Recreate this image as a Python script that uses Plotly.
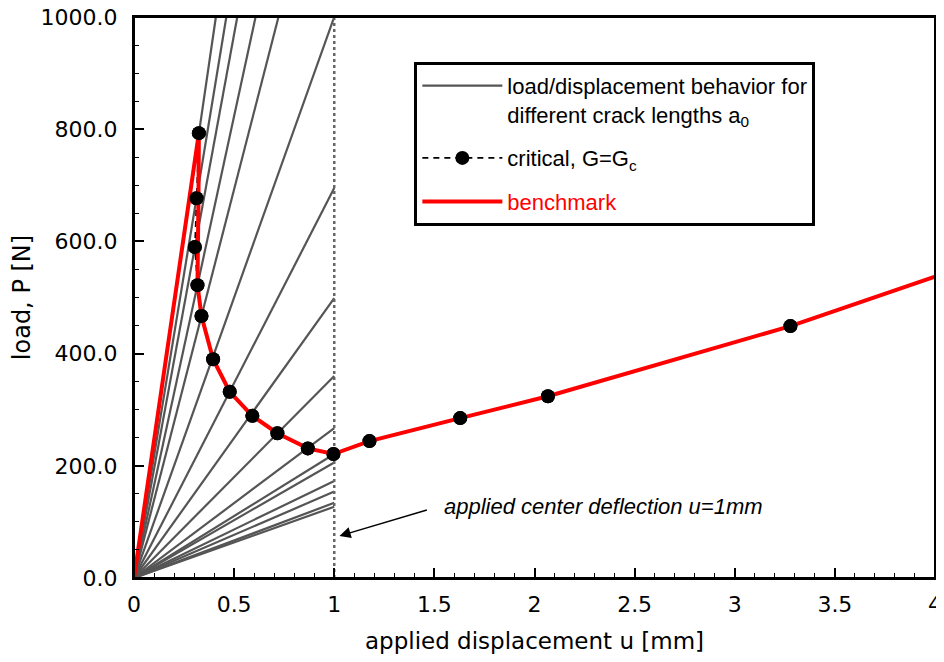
import plotly.graph_objects as go

# gray load/displacement lines: load at u=1 mm (stiffness, N/mm) for each crack length
line_stiffness = [2446, 2169, 1939, 1647, 1386, 1000, 695, 499, 360, 267, 221, 206, 173, 154, 134, 127]
u_applied = 1.0
p_max = 1000.0

# critical points, G = Gc
crit_u = [0.324, 0.312, 0.304, 0.317, 0.337, 0.395, 0.478, 0.591, 0.716, 0.868, 0.996, 1.176, 1.629, 2.067, 3.278]
crit_p = [793, 677, 590, 522, 467, 390, 332, 289, 258, 231, 221, 244, 285, 324, 449]

# benchmark curve
bench_u = [0.0, 0.324, 0.322, 0.319, 0.317, 0.337, 0.395, 0.478, 0.591, 0.716, 0.868, 0.996, 1.176, 1.629, 2.067, 3.278, 4.0]
bench_p = [0, 793, 680, 590, 522, 467, 390, 332, 289, 258, 231, 221, 244, 285, 324, 449, 537]

x_ticks = [0, 0.5, 1, 1.5, 2, 2.5, 3, 3.5, 4]
x_tick_text = ["0", "0.5", "1", "1.5", "2", "2.5", "3", "3.5", "4"]
y_ticks = [0, 200, 400, 600, 800, 1000]
y_tick_text = ["0.0", "200.0", "400.0", "600.0", "800.0", "1000.0"]

FONT = "Liberation Sans, Arial, sans-serif"
WIDE = "DejaVu Sans, " + FONT
GRAY = "#555555"

fig = go.Figure()

for i, k in enumerate(line_stiffness):
    u_end = min(u_applied, p_max / k)
    fig.add_trace(go.Scatter(
        x=[0, u_end], y=[0, k * u_end], mode="lines",
        line=dict(color=GRAY, width=2.2),
        name="load/displacement behavior for<br>different crack lengths a<sub>0</sub>",
        legendgroup="g1", showlegend=(i == 0), hoverinfo="skip"))

# applied deflection dotted line
fig.add_trace(go.Scatter(
    x=[u_applied, u_applied], y=[0, p_max], mode="lines",
    line=dict(color="#666666", width=2.5, dash="3px,3px"),
    showlegend=False, hoverinfo="skip"))

fig.add_trace(go.Scatter(
    x=crit_u, y=crit_p, mode="lines+markers",
    line=dict(color="black", width=1.6, dash="6px,5px"),
    marker=dict(color="black", size=14),
    name="critical, G=G<sub>c</sub>", legendgroup="g2"))

fig.add_trace(go.Scatter(
    x=bench_u, y=bench_p, mode="lines",
    line=dict(color="#ff0000", width=4),
    name='<span style="color:#ff0000">benchmark</span>', legendgroup="g3"))

fig.add_trace(go.Scatter(
    x=crit_u, y=crit_p, mode="markers",
    marker=dict(color="black", size=14),
    showlegend=False))

fig.add_annotation(x=1.026, y=75, ax=1.47, ay=122, axref="x", ayref="y",
                   xref="x", yref="y", text="", showarrow=True,
                   arrowhead=2, arrowsize=1.6, arrowwidth=1.4, arrowcolor="black")
fig.add_annotation(x=1.54, y=127, xref="x", yref="y", xanchor="left", yanchor="middle",
                   text="<i>applied center deflection u=1mm</i>", showarrow=False,
                   font=dict(family=FONT, size=22, color="black"))

# plot frame
fig.add_shape(type="rect", xref="paper", yref="paper", x0=0, y0=0, x1=1, y1=1,
              line=dict(color="black", width=2), layer="above")

# the page body adds an 8px margin; keep the figure inside the 944x662 window
fig.update_layout(
    width=928, height=646,
    margin=dict(l=126, r=1, t=9, b=76),
    plot_bgcolor="white", paper_bgcolor="white",
    font=dict(family=FONT, size=21, color="black"),
    showlegend=True,
    legend=dict(x=0.35, y=0.92, xanchor="left", yanchor="top",
                bgcolor="white", bordercolor="black", borderwidth=3,
                font=dict(family=FONT, size=22, color="black"),
                itemwidth=80, valign="top", tracegroupgap=12),
    xaxis=dict(range=[0, 4], tickvals=x_ticks, ticktext=x_tick_text, automargin=False,
               showline=True, linecolor="black", linewidth=2, mirror=True,
               ticks="inside", ticklen=10, tickwidth=1.5, tickcolor="black",
               minor=dict(dtick=0.1, ticks="inside", ticklen=5, tickwidth=1.2, tickcolor="black"),
               showgrid=False, zeroline=False, ticklabelstandoff=6, ticklabeloverflow="allow",
               tickfont=dict(family=WIDE, size=22),
               title=dict(text="applied displacement u [mm]", standoff=19,
                          font=dict(family=WIDE, size=23))),
    yaxis=dict(range=[0, 1000], tickvals=y_ticks, ticktext=y_tick_text, automargin=False,
               showline=True, linecolor="black", linewidth=2, mirror=True,
               ticks="inside", ticklen=10, tickwidth=1.5, tickcolor="black",
               minor=dict(dtick=50, ticks="inside", ticklen=5, tickwidth=1.2, tickcolor="black"),
               showgrid=False, zeroline=False, ticklabelstandoff=10, ticklabeloverflow="allow",
               tickfont=dict(family=WIDE, size=22),
               title=dict(text="load, P [N]", standoff=21, font=dict(family=WIDE, size=24))),
)

fig.write_html("out.html")
